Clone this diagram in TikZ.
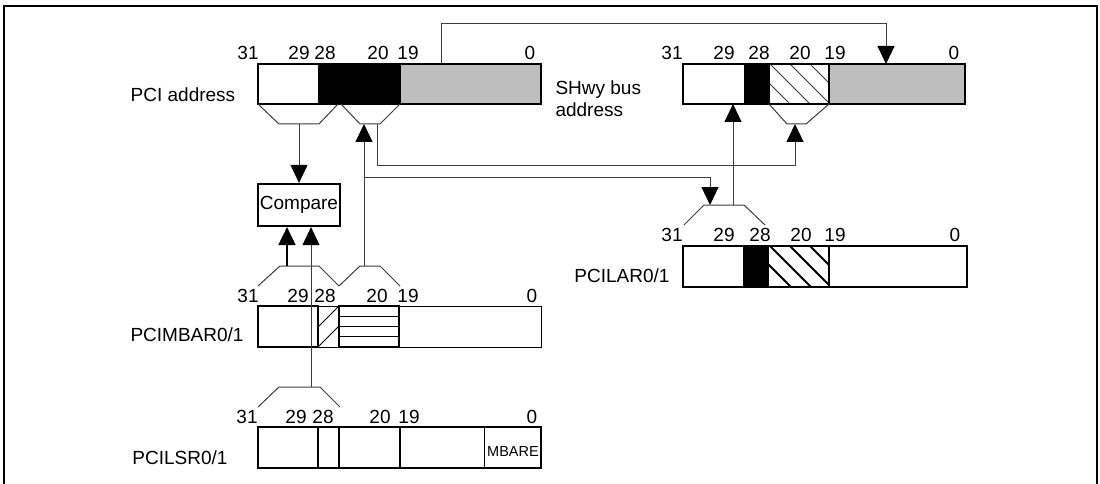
\documentclass[tikz,border=0pt]{standalone}
\usepackage{fontspec}
\setmainfont{Liberation Sans}
\usetikzlibrary{arrows.meta}
\definecolor{busgray}{RGB}{190,190,190}
\definecolor{wire}{RGB}{60,60,60}

\begin{document}
\begin{tikzpicture}[x=1pt,y=-1pt,line width=1pt,
  reg/.style={line width=2.2pt},
  wire/.style={line width=1pt,draw=wire},
  tip/.style={-{Triangle[length=18pt,width=17pt,color=black]}},
  bit/.style={font=\fontsize{19}{19}\selectfont,inner sep=0pt},
  lbl/.style={font=\fontsize{19}{19}\selectfont,inner sep=0pt,anchor=base}]
  \useasboundingbox (0,0) rectangle (1100,484);
  \draw[line width=2.6pt] (4,490) -- (4,6) -- (1097,6) -- (1097,490);

  \coordinate (pa1) at (299,124);
  \coordinate (pa2) at (364,124);
  \coordinate (pa3) at (377,124);
  \coordinate (pa4) at (441,64);
  \coordinate (sh1) at (886,64);
  \coordinate (sh2) at (733,104);
  \coordinate (sh3) at (795,124);
  \coordinate (la1) at (710,205);
  \coordinate (la2) at (733,205);
  \coordinate (mb1) at (287,266);
  \coordinate (mb2) at (364,266);
  \coordinate (ls1) at (311,387);

  \fill[black] (319,64) rectangle (400,104);
  \fill[busgray] (400,64) rectangle (541,104);
  \draw[reg] (258,64) rectangle (541,104) (319,64) -- (319,104) (400,64) -- (400,104);
  \foreach \x/\b in {248/31,299/29,325/28,378/20,408/19,530/0}
    \node[bit] at (\x,53) {\b};
  \node[lbl] (pciaddr) at (183,101.5) {PCI address};
  \draw[wire] (258,104) -- (279,124) -- (319,124) -- (338,104);
  \draw[wire] (341,104) -- (360,124) -- (380,124) -- (400,104);

  \fill[black] (745,64) rectangle (769,104);
  \fill[busgray] (829,64) rectangle (965,104);
  \begin{scope}
    \clip (769,64) rectangle (829,104);
    \foreach \k in {-1,...,2}
      \draw[wire] (770+20*\k,64) -- ++(40,40);
  \end{scope}
  \draw[reg] (683,64) rectangle (965,104) (745,64) -- (745,104) (769,64) -- (769,104) (829,64) -- (829,104);
  \foreach \x/\b in {672/31,724/29,759/28,800/20,835/19,954/0}
    \node[bit] at (\x,53) {\b};
  \node[lbl,anchor=base west] (shwyA) at (555,94.5) {SHwy bus};
  \node[lbl,anchor=base west] (shwyB) at (555,116.5) {address};
  \draw[wire] (769,104) -- (787,124) -- (806,124) -- (829,104);

  \node[draw,reg,minimum width=82pt,minimum height=42pt,inner sep=0pt,
    font=\fontsize{19}{19}\selectfont] (cmp) at (299,205) {Compare};

  \fill[black] (744,246) rectangle (768,287);
  \begin{scope}
    \clip (768,246) rectangle (829,287);
    \foreach \k in {-1,...,2}
      \draw[line width=2pt] (770+20*\k,246) -- ++(41,41);
  \end{scope}
  \draw[reg] (683,246) rectangle (967,287) (744,246) -- (744,287) (768,246) -- (768,287) (829,246) -- (829,287);
  \foreach \x/\b in {672/31,724/29,760/28,801/20,835/19,955/0}
    \node[bit] at (\x,235) {\b};
  \node[lbl] (pcilar) at (622,282) {PCILAR0/1};
  \draw[wire] (684,225) -- (704,205) -- (744,205) -- (765,225);

  \draw (258,306) rectangle (541,347);
  \draw[reg] (258,306) rectangle (318,347);
  \draw (318,327) -- (339,306) (318,347) -- (339,326);
  \draw[line width=1.5pt] (339,306) rectangle (399,347);
  \draw (339,316.25) -- (399,316.25) (339,326.5) -- (399,326.5) (339,336.75) -- (399,336.75);
  \foreach \x/\b in {248/31,298/29,325/28,377/20,408/19,532/0}
    \node[bit] at (\x,296) {\b};
  \node[lbl] (pcimbar) at (187,341.5) {PCIMBAR0/1};
  \draw[wire] (258,286) -- (280,266) -- (319,266) -- (339,286) -- (360,266) -- (380,266) -- (400,286);

  \draw[reg] (258,427) rectangle (541,468) (318,427) -- (318,468) (339,427) -- (339,468) (400,427) -- (400,468);
  \draw (484,427) -- (484,468);
  \node[font=\fontsize{14.5}{14.5}\selectfont,inner sep=0pt] (mbare) at (513,452) {MBARE};
  \foreach \x/\b in {247/31,296/29,323/28,380/20,409/19,532/0}
    \node[bit] at (\x,417) {\b};
  \node[lbl] (pcilsr) at (180,464.5) {PCILSR0/1};
  \draw[wire] (258,407) -- (279,387) -- (320,387) -- (340,407);

  \draw[wire,tip] (pa1) -- (cmp.north);
  \draw[wire,tip] (pa4) -- (pa4 |- 0,24) -| (sh1);
  \draw[wire,tip] (pa3) -- (pa3 |- 0,165) -| (sh3);
  \draw[wire,tip] (mb2) -- (pa2);
  \draw[wire,tip] (mb2 |- 0,177) -| (la1);
  \draw[wire,tip] (la2) -- (sh2);
  \draw[line width=2pt,tip] (mb1) -- (cmp.south -| mb1);
  \draw[wire,tip] (ls1) -- (cmp.south -| ls1);
\end{tikzpicture}
\end{document}
